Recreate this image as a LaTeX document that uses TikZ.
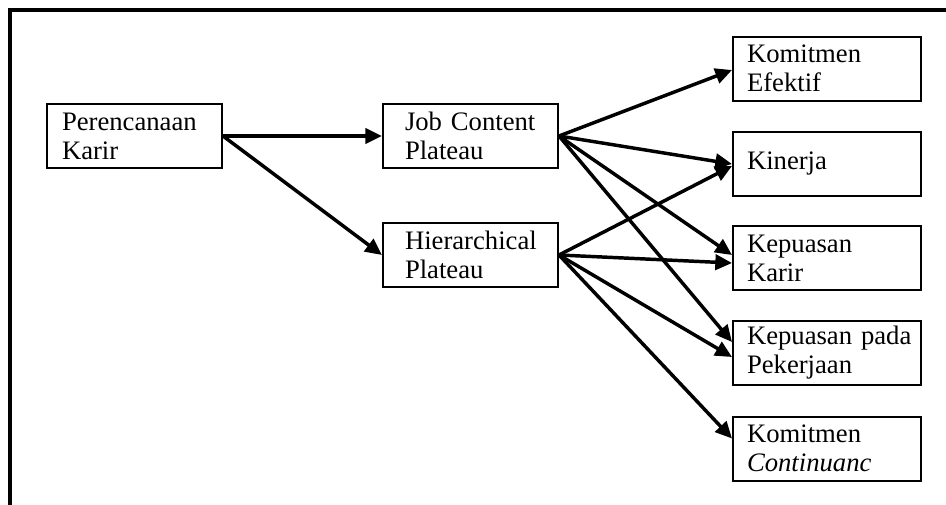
\documentclass[tikz,border=0pt]{standalone}
\usepackage{fontspec}
\setmainfont{Liberation Serif}
\usetikzlibrary{arrows.meta,calc}
\tikzset{
  box/.style={draw, line width=1.5pt, rectangle, align=left, inner ysep=0pt,
    font=\fontsize{20}{21.75}\selectfont, minimum height=48pt},
  leftbox/.style={box, minimum width=131.25pt, text width=108.75pt, inner xsep=11.25pt},
  midbox/.style={box, minimum width=131.25pt, text width=98.25pt, inner xsep=16.5pt},
  rightbox/.style={box, minimum width=141pt, text width=120pt, inner xsep=10.5pt},
  conn/.style={line width=2.6pt, -{Triangle[length=12.5pt,width=11.5pt]}},
  frame/.style={line width=3pt}
}
\begin{document}
\begin{tikzpicture}[x=0.75pt,y=-0.75pt]
\useasboundingbox (0,0) rectangle (946,504);
\clip (0,0) rectangle (946,504);
\coordinate (fa) at (10,520);
\coordinate (fb) at (10,9.5);
\coordinate (fc) at (960,9.5);
\draw[frame] (fa) -- (fb) -- (fc);

\node[leftbox] (PK) at (134.5,136) {Perencanaan\\Karir};
\node[midbox] (JC) at (470.5,136) {Job Content\\Plateau};
\node[midbox] (HP) at (470.5,255) {Hierarchical\\Plateau};

\node[rightbox] (KE) at (827,68.5) {Komitmen\\Efektif};
\node[rightbox] (KI) at (827,164) {Kinerja};
\node[rightbox] (KK) at (827,258) {Kepuasan\\Karir};
\node[rightbox] (KP) at (827,353) {Kepuasan~pada\\Pekerjaan};
\node[rightbox] (KC) at (827,448.5) {Komitmen\\\textit{Continuanc}};

\draw[conn] (PK.east) -- (JC.west);
\draw[conn] (PK.east) -- (HP.west);

\draw[conn] (JC.east) -- ($(KE.west)+(0,1.5)$);
\draw[conn] (JC.east) -- (KI.west);
\draw[conn] (JC.east) -- ($(KK.west)+(0,-3)$);
\draw[conn] (JC.east) -- ($(KP.west)+(0,-11)$);

\draw[conn] (HP.east) -- ($(KI.west)+(0,2)$);
\draw[conn] (HP.east) -- ($(KK.west)+(0,5)$);
\draw[conn] (HP.east) -- ($(KP.west)+(0,4)$);
\draw[conn] (HP.east) -- ($(KC.west)+(0,-10)$);
\end{tikzpicture}
\end{document}
